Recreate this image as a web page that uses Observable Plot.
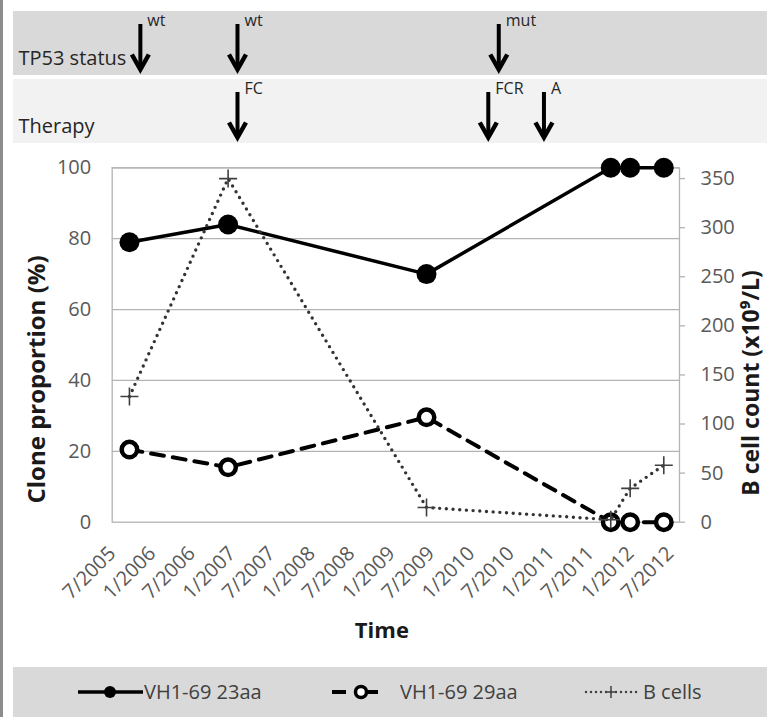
<!DOCTYPE html>
<html>
<head>
<meta charset="utf-8">
<script src="https://cdn.jsdelivr.net/npm/d3@7"></script>
<script src="https://cdn.jsdelivr.net/npm/@observablehq/plot@0.6"></script>
<style>
  body { margin: 0; background: #fff; font-family: "Open Sans", sans-serif; }
  #chart { position: relative; width: 767px; height: 717px; overflow: hidden; background: #fff; }
  #chart > svg, #chart > figure { position: absolute; left: 0; margin: 0; }
  #edge { position: absolute; left: 0; top: 0; width: 3px; height: 717px; background: #8c8c8c; }
  #legend { position: absolute; left: 13px; top: 667px; width: 754px; height: 50px; background: #d9d9d9; }
</style>
</head>
<body>
<div id="chart"><div id="edge"></div><div id="legend"></div></div>
<script>
// Sampling dates and measurements
const sampleDates = ["2005-09-18", "2006-12-14", "2009-06-10", "2011-10-02", "2011-12-30", "2012-06-01"];
const clone23 = [79, 84, 70, 100, 100, 100];        // VH1-69 23aa, % of clone
const clone29 = [20.5, 15.5, 29.6, 0, 0, 0];        // VH1-69 29aa, % of clone
const bCells  = [128, 350, 15, 2.5, 34.5, 58];      // B cell count, x10^9/L

// TP53 status checks and therapy start dates
const tp53Dates  = ["2005-11-07", "2007-01-26", "2010-05-07"];
const tp53Status = ["wt", "wt", "mut"];
const therapyDates = ["2007-01-26", "2010-03-20", "2010-11-30"];
const therapyNames = ["FC", "FCR", "A"];

// Axis ticks
const xTickDates  = ["2005-07-01", "2006-01-01", "2006-07-01", "2007-01-01", "2007-07-01", "2008-01-01",
                     "2008-07-01", "2009-01-01", "2009-07-01", "2010-01-01", "2010-07-01", "2011-01-01",
                     "2011-07-01", "2012-01-01", "2012-07-01"];
const xTickLabels = ["7/2005", "1/2006", "7/2006", "1/2007", "7/2007", "1/2008", "7/2008", "1/2009",
                     "7/2009", "1/2010", "7/2010", "1/2011", "7/2011", "1/2012", "7/2012"];
const leftTicks  = [0, 20, 40, 60, 80, 100];
const rightTicks = [0, 50, 100, 150, 200, 250, 300, 350];

const rows = ["TP53 status", "Therapy"];
const rowFill = ["#d9d9d9", "#f2f2f2"];

const parse = d3.utcParse("%Y-%m-%d");
const xDomain = [parse("2005-07-01"), parse("2012-08-12")];
const xRange = [111.7, 679];
const leftMax = 100, rightMax = 361;
const k = leftMax / rightMax; // maps B cell counts onto the clone-proportion scale

const samples = sampleDates.map((d, i) => ({date: parse(d), c23: clone23[i], c29: clone29[i], b: bCells[i]}));
const events = [
  ...tp53Dates.map((d, i) => ({row: rows[0], date: parse(d), label: tp53Status[i]})),
  ...therapyDates.map((d, i) => ({row: rows[1], date: parse(d), label: therapyNames[i]}))
];

// Open chevron arrowhead, tip at the anchor
const chevron = {draw(ctx) { ctx.moveTo(-8.5, -19); ctx.lineTo(0, -4); ctx.lineTo(8.5, -19); }};
// Thin plus marker
const plus = {draw(ctx) { ctx.moveTo(-9, 0); ctx.lineTo(9, 0); ctx.moveTo(0, -9); ctx.lineTo(0, 9); }};

const font = "'Open Sans', sans-serif";
const chart = document.getElementById("chart");

// Event bands: TP53 status and therapy
const topPlot = Plot.plot({
  width: 767, height: 150,
  marginLeft: 13, marginRight: 0, marginTop: 10, marginBottom: 7,
  x: {type: "utc", domain: xDomain, range: xRange, axis: null},
  y: {type: "band", domain: rows, paddingInner: 0.06, paddingOuter: 0, axis: null},
  color: {type: "identity"},
  style: {background: "transparent", fontFamily: font},
  marks: [
    Plot.cell(rows, {y: d => d, fill: (d, i) => rowFill[i]}),
    Plot.text(rows, {y: d => d, text: d => d, frameAnchor: "left", textAnchor: "start",
                     dx: 5, dy: 15, fontSize: 20, fill: "#262626"}),
    Plot.tickX(events, {x: "date", y: "row", insetTop: 13, insetBottom: 6, stroke: "#000", strokeWidth: 4}),
    Plot.dot(events, {x: "date", y: "row", symbol: chevron, dy: 30, fill: "none", stroke: "#000",
                      strokeWidth: 4.5, strokeLinejoin: "miter"}),
    Plot.text(events, {x: "date", y: "row", text: "label", dx: 7, dy: -23, textAnchor: "start",
                       fontSize: 16, fill: "#262626"})
  ]
});
topPlot.style.top = "0px";
chart.appendChild(topPlot);

// Main chart: clone proportions (left axis) and B cell count (right axis)
const mainPlot = Plot.plot({
  width: 767, height: 517,
  marginLeft: 111.7, marginRight: 88, marginTop: 17.3, marginBottom: 145.3,
  x: {type: "utc", domain: xDomain},
  y: {domain: [0, leftMax]},
  style: {background: "transparent", fontFamily: font},
  marks: [
    Plot.gridY(leftTicks.filter(v => v > 0), {stroke: "#b3b3b3", strokeOpacity: 1, strokeWidth: 1.3}),
    Plot.frame({stroke: "#b3b3b3", strokeWidth: 1.3}),
    Plot.axisY(leftTicks, {anchor: "left", tickSize: 0, tickPadding: 21, fontSize: 20,
                           fill: "#595959", label: null}),
    Plot.axisY(rightTicks, {anchor: "right", y: d => d * k, tickFormat: d => d, tickSize: 5,
                            tickPadding: 16, fontSize: 20, stroke: "#b3b3b3", strokeWidth: 1.3,
                            fill: "#595959", label: null}),
    Plot.axisX(xTickDates.map(parse), {anchor: "bottom", tickSize: 0, tickPadding: 28, tickRotate: -45,
                                       tickFormat: (d, i) => xTickLabels[i], fontSize: 20,
                                       fill: "#595959", label: null}),
    Plot.text(["Clone proportion (%)"], {text: d => d, frameAnchor: "left", textAnchor: "middle",
                                         rotate: -90, dx: -74.7, dy: 34.5,
                                         fontSize: 24, fontWeight: "bold", fill: "#1a1a1a"}),
    Plot.text(["B cell count (x10⁹/L)"], {text: d => d, frameAnchor: "right", textAnchor: "middle",
                                          rotate: -90, dx: 72, dy: 38,
                                          fontSize: 23, fontWeight: "bold", fill: "#1a1a1a"}),
    Plot.text(["Time"], {text: d => d, frameAnchor: "bottom", dx: -14, dy: 116, fontSize: 22,
                         fontWeight: "bold", fill: "#1a1a1a"}),
    Plot.line(samples, {x: "date", y: "c23", stroke: "#000", strokeWidth: 3.5}),
    Plot.dot(samples, {x: "date", y: "c23", r: 10, fill: "#000"}),
    Plot.line(samples, {x: "date", y: "c29", stroke: "#000", strokeWidth: 4, strokeDasharray: "13,9"}),
    Plot.dot(samples, {x: "date", y: "c29", r: 7.75, fill: "#fff", stroke: "#000", strokeWidth: 4.5}),
    Plot.line(samples, {x: "date", y: d => d.b * k, stroke: "#333", strokeWidth: 3.4,
                        strokeDasharray: "0,6.7", strokeLinecap: "round"}),
    Plot.dot(samples, {x: "date", y: d => d.b * k, symbol: plus, fill: "none", stroke: "#404040",
                       strokeWidth: 1.6})
  ]
});
mainPlot.style.top = "150px";
chart.appendChild(mainPlot);

// Legend
const lg = d3.select("#legend").append("svg").attr("width", 754).attr("height", 50)
  .style("font-family", font).style("font-size", "20px");
const cy = 25;
// VH1-69 23aa
lg.append("line").attr("x1", 65).attr("x2", 130).attr("y1", cy).attr("y2", cy)
  .attr("stroke", "#000").attr("stroke-width", 3.5);
lg.append("circle").attr("cx", 97).attr("cy", cy).attr("r", 6).attr("fill", "#000");
lg.append("text").attr("x", 131).attr("y", cy).attr("dy", "0.35em").attr("fill", "#404040").text("VH1-69 23aa");
// VH1-69 29aa
lg.append("line").attr("x1", 319).attr("x2", 333).attr("y1", cy).attr("y2", cy)
  .attr("stroke", "#000").attr("stroke-width", 4);
lg.append("line").attr("x1", 355).attr("x2", 365).attr("y1", cy).attr("y2", cy)
  .attr("stroke", "#000").attr("stroke-width", 4);
lg.append("circle").attr("cx", 348).attr("cy", cy).attr("r", 5.5).attr("fill", "#fff")
  .attr("stroke", "#000").attr("stroke-width", 3.5);
lg.append("text").attr("x", 387).attr("y", cy).attr("dy", "0.35em").attr("fill", "#404040").text("VH1-69 29aa");
// B cells
lg.append("line").attr("x1", 573).attr("x2", 624).attr("y1", cy).attr("y2", cy)
  .attr("stroke", "#404040").attr("stroke-width", 2.5).attr("stroke-dasharray", "0,5")
  .attr("stroke-linecap", "round");
lg.append("path").attr("d", `M${592},${cy}h12M${598},${cy - 6}v12`).attr("stroke", "#404040")
  .attr("stroke-width", 1.5).attr("fill", "none");
lg.append("text").attr("x", 630).attr("y", cy).attr("dy", "0.35em").attr("fill", "#404040").text("B cells");
</script>
</body>
</html>
